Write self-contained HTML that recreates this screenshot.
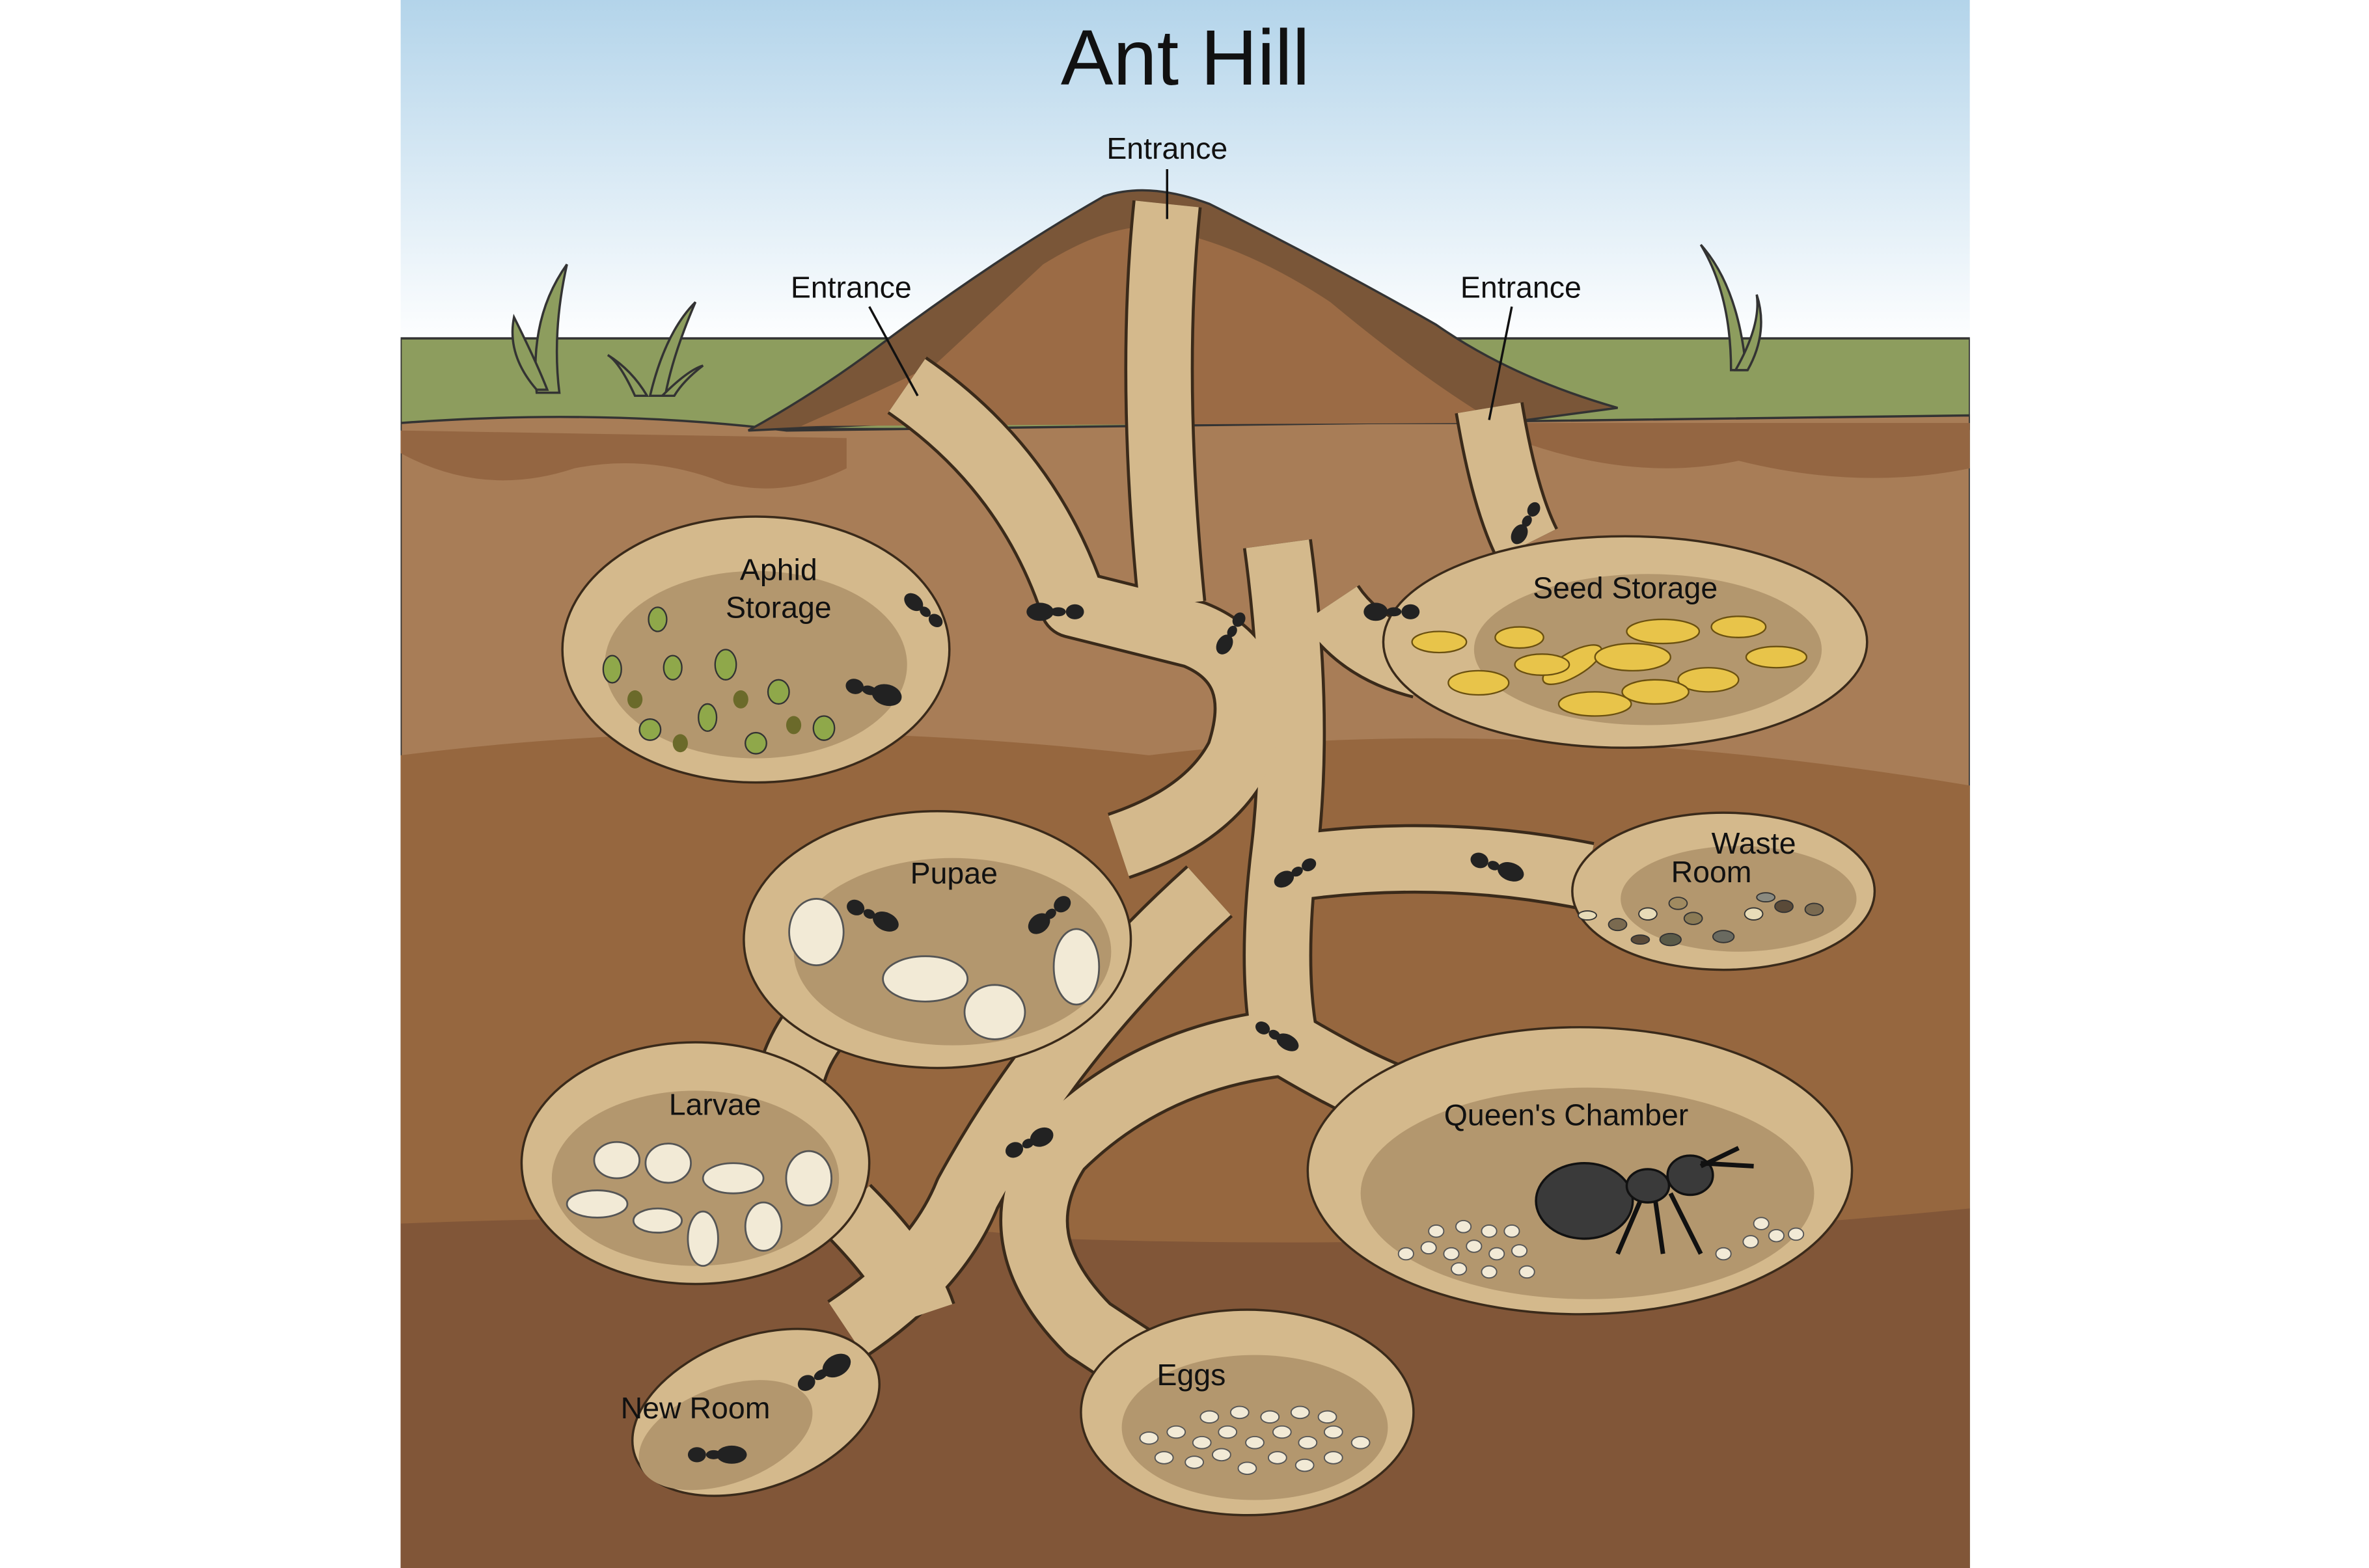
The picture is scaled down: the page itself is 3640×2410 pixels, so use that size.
<!DOCTYPE html>
<html><head><meta charset="utf-8"><style>
html,body{margin:0;padding:0;background:#fff;}
svg{display:block;}
text{font-family:"Liberation Sans","DejaVu Sans",sans-serif;fill:#111;}
</style></head><body>
<svg width="3640" height="2410" viewBox="0 0 1567 1038" preserveAspectRatio="none" xmlns="http://www.w3.org/2000/svg">
<defs>
<linearGradient id="sky" x1="0" y1="0" x2="0" y2="1"><stop offset="0" stop-color="#b3d4ea"/><stop offset="1" stop-color="#ffffff"/></linearGradient>
<clipPath id="c"><rect x="265" y="0" width="1038" height="1038"/></clipPath>
</defs>
<rect width="1567" height="1038" fill="#fff"/>
<g clip-path="url(#c)">
<rect x="265" y="0" width="1038" height="230" fill="url(#sky)"/>
<rect x="265" y="224" width="1038" height="60" fill="#8d9d5e" stroke="#333" stroke-width="1.5"/>
<path d="M265 280 Q400 270 520 285 L1303 275 L1303 1038 L265 1038Z" fill="#a87d57" stroke="#333" stroke-width="1.5"/>
<path d="M265 500 Q500 470 760 500 Q1000 470 1303 520 L1303 1038 L265 1038Z" fill="#96673f"/>
<path d="M265 810 Q520 800 700 820 Q1000 830 1303 800 L1303 1038 L265 1038Z" fill="#815638"/>
<path d="M265 300 Q320 330 380 310 Q430 300 480 320 Q520 330 560 310 L560 290 L265 285Z" fill="#946642"/>
<path d="M1000 290 Q1080 320 1150 305 Q1230 325 1303 310 L1303 280 L1000 280Z" fill="#946642"/>
<path d="M495 285 Q540 260 580 230 Q660 170 730 130 Q760 120 800 135 Q880 175 950 215 Q1000 250 1070 270 L995 280 L600 280Z" fill="#7a5638" stroke="#333" stroke-width="1.5"/>
<path d="M530 282 Q580 260 620 240 L690 175 Q730 150 760 150 Q820 160 880 200 Q940 250 990 280Z" fill="#9b6b45"/>
<g fill="none" stroke="#3a2a1a" stroke-linecap="butt" stroke-linejoin="round" stroke-width="46">
<path d="M772 135 Q760 250 775 400"/>
<path d="M845 360 Q860 470 850 560 Q840 640 850 690"/>
<path d="M600 255 Q680 310 710 400 L790 420 Q840 440 820 500 Q800 540 740 560"/>
<path d="M985 270 Q995 330 1010 360"/>
<path d="M880 400 Q900 430 940 440"/>
<path d="M850 575 Q950 560 1050 580"/>
<path d="M850 690 Q900 720 930 730"/>
<path d="M800 590 Q700 680 640 790 Q620 840 560 880"/>
<path d="M850 690 Q760 700 700 760 Q660 820 720 880 Q780 920 800 930"/>
<path d="M560 660 Q520 690 520 740"/>
<path d="M560 800 Q600 840 610 870"/>
</g>
<g fill="none" stroke="#d4b98c" stroke-linecap="butt" stroke-linejoin="round" stroke-width="42">
<path d="M772 135 Q760 250 775 400"/>
<path d="M845 360 Q860 470 850 560 Q840 640 850 690"/>
<path d="M600 255 Q680 310 710 400 L790 420 Q840 440 820 500 Q800 540 740 560"/>
<path d="M985 270 Q995 330 1010 360"/>
<path d="M880 400 Q900 430 940 440"/>
<path d="M850 575 Q950 560 1050 580"/>
<path d="M850 690 Q900 720 930 730"/>
<path d="M800 590 Q700 680 640 790 Q620 840 560 880"/>
<path d="M850 690 Q760 700 700 760 Q660 820 720 880 Q780 920 800 930"/>
<path d="M560 660 Q520 690 520 740"/>
<path d="M560 800 Q600 840 610 870"/>
</g>
<g fill="#d4b98c" stroke="#3a2a1a" stroke-width="1.5">
<ellipse cx="500" cy="430" rx="128" ry="88"/>
<ellipse cx="1075" cy="425" rx="160" ry="70"/>
<ellipse cx="620" cy="622" rx="128" ry="85"/>
<ellipse cx="1140" cy="590" rx="100" ry="52"/>
<ellipse cx="460" cy="770" rx="115" ry="80"/>
<ellipse cx="1045" cy="775" rx="180" ry="95"/>
<ellipse cx="825" cy="935" rx="110" ry="68"/>
<ellipse cx="500" cy="935" rx="85" ry="50" transform="rotate(-20 500 935)"/>
</g>
<g fill="#b3976e">
<ellipse cx="500" cy="440" rx="100" ry="62"/>
<ellipse cx="1090" cy="430" rx="115" ry="50"/>
<ellipse cx="630" cy="630" rx="105" ry="62"/>
<ellipse cx="1150" cy="595" rx="78" ry="35"/>
<ellipse cx="460" cy="780" rx="95" ry="58"/>
<ellipse cx="1050" cy="790" rx="150" ry="70"/>
<ellipse cx="830" cy="945" rx="88" ry="48"/>
<ellipse cx="480" cy="950" rx="60" ry="32" transform="rotate(-20 480 950)"/>
</g>
<g fill="#8fa84a" stroke="#333" stroke-width="1">
<ellipse cx="405" cy="443" rx="6" ry="9"/><ellipse cx="435" cy="410" rx="6" ry="8"/><ellipse cx="445" cy="442" rx="6" ry="8"/>
<ellipse cx="480" cy="440" rx="7" ry="10"/><ellipse cx="515" cy="458" rx="7" ry="8"/><ellipse cx="468" cy="475" rx="6" ry="9"/>
<ellipse cx="430" cy="483" rx="7" ry="7"/><ellipse cx="500" cy="492" rx="7" ry="7"/><ellipse cx="545" cy="482" rx="7" ry="8"/>
</g>
<g fill="#6b6a2a"><ellipse cx="420" cy="463" rx="5" ry="6"/><ellipse cx="450" cy="492" rx="5" ry="6"/><ellipse cx="490" cy="463" rx="5" ry="6"/><ellipse cx="525" cy="480" rx="5" ry="6"/></g>
<g fill="#e8c44a" stroke="#6a5010" stroke-width="1">
<ellipse cx="952" cy="425" rx="18" ry="7"/><ellipse cx="1005" cy="422" rx="16" ry="7"/><ellipse cx="1040" cy="440" rx="22" ry="8" transform="rotate(-30 1040 440)"/>
<ellipse cx="1080" cy="435" rx="25" ry="9"/><ellipse cx="1100" cy="418" rx="24" ry="8"/><ellipse cx="1150" cy="415" rx="18" ry="7"/>
<ellipse cx="1175" cy="435" rx="20" ry="7"/><ellipse cx="1130" cy="450" rx="20" ry="8"/><ellipse cx="978" cy="452" rx="20" ry="8"/>
<ellipse cx="1055" cy="466" rx="24" ry="8"/><ellipse cx="1095" cy="458" rx="22" ry="8"/><ellipse cx="1020" cy="440" rx="18" ry="7"/>
</g>
<g fill="#f2ead6" stroke="#555" stroke-width="1.2">
<ellipse cx="540" cy="617" rx="18" ry="22"/><ellipse cx="612" cy="648" rx="28" ry="15"/><ellipse cx="658" cy="670" rx="20" ry="18"/><ellipse cx="712" cy="640" rx="15" ry="25"/>
<ellipse cx="408" cy="768" rx="15" ry="12"/><ellipse cx="442" cy="770" rx="15" ry="13"/><ellipse cx="485" cy="780" rx="20" ry="10"/><ellipse cx="535" cy="780" rx="15" ry="18"/>
<ellipse cx="395" cy="797" rx="20" ry="9"/><ellipse cx="435" cy="808" rx="16" ry="8"/><ellipse cx="465" cy="820" rx="10" ry="18"/><ellipse cx="505" cy="812" rx="12" ry="16"/>
</g>
<g fill="#f2ead6" stroke="#555" stroke-width="0.8">
<ellipse cx="930" cy="830" rx="5" ry="4"/><ellipse cx="945" cy="826" rx="5" ry="4"/><ellipse cx="960" cy="830" rx="5" ry="4"/><ellipse cx="975" cy="825" rx="5" ry="4"/><ellipse cx="990" cy="830" rx="5" ry="4"/><ellipse cx="1005" cy="828" rx="5" ry="4"/>
<ellipse cx="950" cy="815" rx="5" ry="4"/><ellipse cx="968" cy="812" rx="5" ry="4"/><ellipse cx="985" cy="815" rx="5" ry="4"/><ellipse cx="1000" cy="815" rx="5" ry="4"/><ellipse cx="965" cy="840" rx="5" ry="4"/><ellipse cx="985" cy="842" rx="5" ry="4"/><ellipse cx="1010" cy="842" rx="5" ry="4"/>
<ellipse cx="1140" cy="830" rx="5" ry="4"/><ellipse cx="1158" cy="822" rx="5" ry="4"/><ellipse cx="1175" cy="818" rx="5" ry="4"/><ellipse cx="1188" cy="817" rx="5" ry="4"/><ellipse cx="1165" cy="810" rx="5" ry="4"/>
<ellipse cx="760" cy="952" rx="6" ry="4"/><ellipse cx="778" cy="948" rx="6" ry="4"/><ellipse cx="795" cy="955" rx="6" ry="4"/><ellipse cx="812" cy="948" rx="6" ry="4"/><ellipse cx="830" cy="955" rx="6" ry="4"/><ellipse cx="848" cy="948" rx="6" ry="4"/><ellipse cx="865" cy="955" rx="6" ry="4"/><ellipse cx="882" cy="948" rx="6" ry="4"/><ellipse cx="900" cy="955" rx="6" ry="4"/>
<ellipse cx="770" cy="965" rx="6" ry="4"/><ellipse cx="790" cy="968" rx="6" ry="4"/><ellipse cx="808" cy="963" rx="6" ry="4"/><ellipse cx="825" cy="972" rx="6" ry="4"/><ellipse cx="845" cy="965" rx="6" ry="4"/><ellipse cx="863" cy="970" rx="6" ry="4"/><ellipse cx="882" cy="965" rx="6" ry="4"/>
<ellipse cx="800" cy="938" rx="6" ry="4"/><ellipse cx="820" cy="935" rx="6" ry="4"/><ellipse cx="840" cy="938" rx="6" ry="4"/><ellipse cx="860" cy="935" rx="6" ry="4"/><ellipse cx="878" cy="938" rx="6" ry="4"/>
</g>
<g stroke="#333" stroke-width="0.8">
<ellipse cx="1050" cy="606" rx="6" ry="3" fill="#e8dcb8"/><ellipse cx="1070" cy="612" rx="6" ry="4" fill="#7a6a50"/><ellipse cx="1090" cy="605" rx="6" ry="4" fill="#e8dcb8"/><ellipse cx="1105" cy="622" rx="7" ry="4" fill="#5a5a48"/><ellipse cx="1120" cy="608" rx="6" ry="4" fill="#8a7a55"/><ellipse cx="1140" cy="620" rx="7" ry="4" fill="#6a6a60"/><ellipse cx="1160" cy="605" rx="6" ry="4" fill="#e8dcb8"/><ellipse cx="1180" cy="600" rx="6" ry="4" fill="#5a4a38"/><ellipse cx="1200" cy="602" rx="6" ry="4" fill="#7a6a50"/><ellipse cx="1168" cy="594" rx="6" ry="3" fill="#8a8a80"/><ellipse cx="1110" cy="598" rx="6" ry="4" fill="#a08a60"/><ellipse cx="1085" cy="622" rx="6" ry="3" fill="#5a4a38"/>
</g>
<g fill="#3a3a3a" stroke="#111" stroke-width="1.5">
<ellipse cx="1048" cy="795" rx="32" ry="25"/><ellipse cx="1090" cy="785" rx="14" ry="11"/><ellipse cx="1118" cy="778" rx="15" ry="13"/>
</g>
<g stroke="#111" stroke-width="3" fill="none"><path d="M1085 795 L1070 830 M1095 795 L1100 830 M1105 790 L1125 830 M1125 770 L1160 772 M1125 772 L1150 760"/></g>
<g fill="#222">
<g transform="translate(612 405) rotate(40)"><ellipse cx="-10" cy="0" rx="7" ry="5"/><ellipse cx="0" cy="0" rx="4" ry="3"/><ellipse cx="9" cy="0" rx="5" ry="4"/></g>
<g transform="translate(700 405)"><ellipse cx="-12" cy="0" rx="9" ry="6"/><ellipse cx="0" cy="0" rx="5" ry="3"/><ellipse cx="11" cy="0" rx="6" ry="5"/></g>
<g transform="translate(815 418) rotate(-60)"><ellipse cx="-10" cy="0" rx="7" ry="5"/><ellipse cx="0" cy="0" rx="4" ry="3"/><ellipse cx="9" cy="0" rx="5" ry="4"/></g>
<g transform="translate(575 457) rotate(15)"><ellipse cx="12" cy="0" rx="10" ry="7"/><ellipse cx="0" cy="0" rx="5" ry="3"/><ellipse cx="-10" cy="0" rx="6" ry="5"/></g>
<g transform="translate(922 405)"><ellipse cx="-12" cy="0" rx="8" ry="6"/><ellipse cx="0" cy="0" rx="5" ry="3"/><ellipse cx="11" cy="0" rx="6" ry="5"/></g>
<g transform="translate(1010 345) rotate(-60)"><ellipse cx="-10" cy="0" rx="7" ry="5"/><ellipse cx="0" cy="0" rx="4" ry="3"/><ellipse cx="9" cy="0" rx="5" ry="4"/></g>
<g transform="translate(575 605) rotate(25)"><ellipse cx="12" cy="0" rx="9" ry="6"/><ellipse cx="0" cy="0" rx="4" ry="3"/><ellipse cx="-10" cy="0" rx="6" ry="5"/></g>
<g transform="translate(695 605) rotate(-40)"><ellipse cx="-10" cy="0" rx="8" ry="6"/><ellipse cx="0" cy="0" rx="4" ry="3"/><ellipse cx="10" cy="0" rx="6" ry="5"/></g>
<g transform="translate(858 577) rotate(-30)"><ellipse cx="-10" cy="0" rx="7" ry="5"/><ellipse cx="0" cy="0" rx="4" ry="3"/><ellipse cx="9" cy="0" rx="5" ry="4"/></g>
<g transform="translate(988 573) rotate(20)"><ellipse cx="12" cy="0" rx="9" ry="6"/><ellipse cx="0" cy="0" rx="4" ry="3"/><ellipse cx="-10" cy="0" rx="6" ry="5"/></g>
<g transform="translate(843 685) rotate(30)"><ellipse cx="10" cy="0" rx="8" ry="5"/><ellipse cx="0" cy="0" rx="4" ry="3"/><ellipse cx="-9" cy="0" rx="5" ry="4"/></g>
<g transform="translate(680 757) rotate(-25)"><ellipse cx="10" cy="0" rx="8" ry="6"/><ellipse cx="0" cy="0" rx="4" ry="3"/><ellipse cx="-10" cy="0" rx="6" ry="5"/></g>
<g transform="translate(543 910) rotate(-30)"><ellipse cx="12" cy="0" rx="10" ry="7"/><ellipse cx="0" cy="0" rx="5" ry="3"/><ellipse cx="-11" cy="0" rx="6" ry="5"/></g>
<g transform="translate(472 963)"><ellipse cx="12" cy="0" rx="10" ry="6"/><ellipse cx="0" cy="0" rx="5" ry="3"/><ellipse cx="-11" cy="0" rx="6" ry="5"/></g>
</g>
<g fill="#8d9d5e" stroke="#333" stroke-width="1.5">
<path d="M355 260 Q350 210 375 175 Q365 220 370 260Z"/><path d="M355 258 Q335 235 340 210 Q355 240 362 258Z"/>
<path d="M420 262 Q410 240 402 235 Q418 245 428 262Z"/><path d="M430 262 Q440 220 460 200 Q445 235 440 262Z"/><path d="M438 262 Q455 245 465 242 Q452 252 446 262Z"/>
<path d="M1145 245 Q1145 195 1125 162 Q1150 190 1155 245Z"/><path d="M1148 245 Q1165 215 1162 195 Q1170 220 1156 245Z"/>
</g>
<g stroke="#111" stroke-width="1.5"><line x1="772" y1="112" x2="772" y2="145"/><line x1="575" y1="203" x2="607" y2="262"/><line x1="1000" y1="203" x2="985" y2="278"/></g>
</g>
<text x="784" y="56" font-size="52" text-anchor="middle">Ant Hill</text>
<g font-size="20" text-anchor="middle">
<text x="772" y="105">Entrance</text>
<text x="563" y="197">Entrance</text>
<text x="1006" y="197">Entrance</text>
<text x="515" y="384">Aphid</text><text x="515" y="409">Storage</text>
<text x="1075" y="396">Seed Storage</text>
<text x="631" y="585">Pupae</text>
<text x="1160" y="565">Waste</text><text x="1132" y="584">Room</text>
<text x="473" y="738">Larvae</text>
<text x="1036" y="745">Queen's Chamber</text>
<text x="788" y="917">Eggs</text>
<text x="460" y="939">New Room</text>
</g>
</svg>
</body></html>
